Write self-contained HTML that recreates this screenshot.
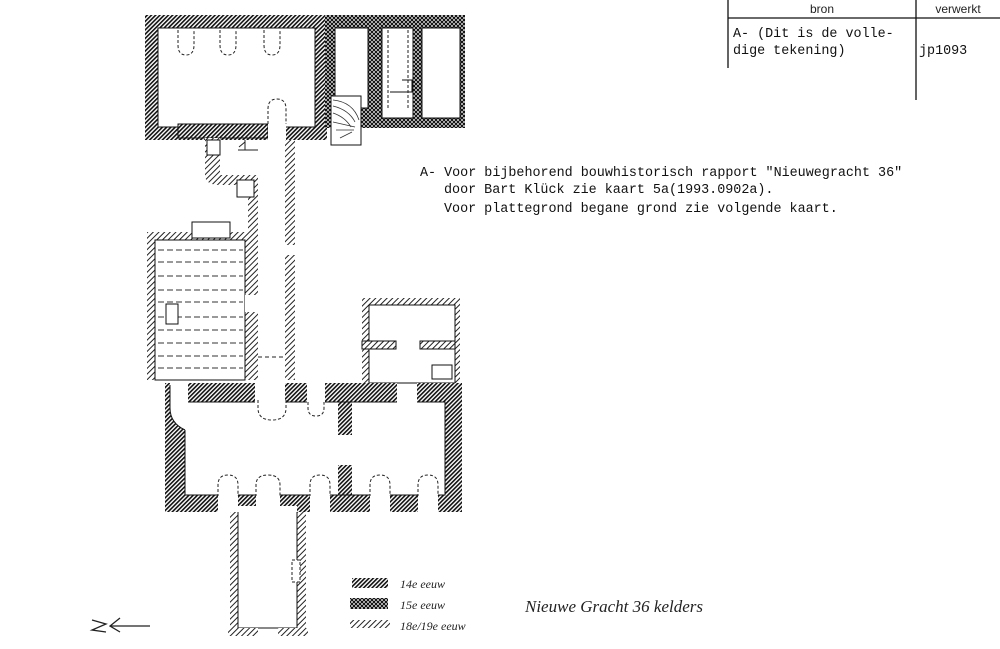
<!DOCTYPE html>
<html><head><meta charset="utf-8"><style>
html,body{margin:0;padding:0;background:#fff;}
svg{display:block}
.m{font-family:"Liberation Mono",monospace;font-size:13.4px;fill:#111}
</style></head><body>
<svg width="1000" height="649" viewBox="0 0 1000 649" xmlns="http://www.w3.org/2000/svg">
<defs>
<pattern id="h14" width="3" height="3" patternUnits="userSpaceOnUse" patternTransform="rotate(45)"><rect width="3" height="3" fill="#fff"/><rect width="1.6" height="3" fill="#111"/></pattern>
<pattern id="h15" width="4" height="4" patternUnits="userSpaceOnUse"><rect width="4" height="4" fill="#fff"/><path d="M0 0L4 4M4 0L0 4" stroke="#111" stroke-width="1.2"/></pattern>
<pattern id="h18" width="4" height="4" patternUnits="userSpaceOnUse" patternTransform="rotate(45)"><rect width="4" height="4" fill="#fff"/><rect width="1" height="4" fill="#222"/></pattern>
</defs>
<!-- table -->
<g stroke="#111" stroke-width="1.3" fill="none">
<line x1="728" y1="0" x2="728" y2="68"/>
<line x1="916" y1="0" x2="916" y2="100"/>
<line x1="728" y1="18" x2="1000" y2="18"/>
</g>
<text x="822" y="13" font-family="Liberation Sans,sans-serif" font-size="12" text-anchor="middle" fill="#222">bron</text>
<text x="958" y="13" font-family="Liberation Sans,sans-serif" font-size="12" text-anchor="middle" fill="#222">verwerkt</text>
<text class="m" x="733" y="37">A- (Dit is de volle-</text>
<text class="m" x="733" y="54">dige tekening)</text>
<text class="m" x="919" y="54">jp1093</text>
<!-- note -->
<text class="m" x="420" y="176">A- Voor bijbehorend bouwhistorisch rapport "Nieuwegracht 36"</text>
<text class="m" x="444" y="193">door Bart Klück zie kaart 5a(1993.0902a).</text>
<text class="m" x="444" y="212">Voor plattegrond begane grond zie volgende kaart.</text>

<!-- top block -->
<rect x="145" y="15" width="182" height="125" fill="url(#h14)"/>
<rect x="158" y="28" width="157" height="99" fill="#fff" stroke="#111"/>
<rect x="178" y="124" width="90" height="14" fill="url(#h14)" stroke="#111"/>
<rect x="268" y="124" width="18" height="20" fill="#fff"/>
<rect x="325" y="15" width="140" height="113" fill="url(#h15)"/>
<rect x="335" y="28" width="33" height="80" fill="#fff" stroke="#111"/>
<rect x="382" y="28" width="31" height="90" fill="#fff" stroke="#111"/>
<rect x="422" y="28" width="38" height="90" fill="#fff" stroke="#111"/>
<rect x="331" y="96" width="30" height="49" fill="#fff" stroke="#111"/>
<g fill="none" stroke="#333" stroke-width="0.8">
<path d="M333 100q20 2 26 20M333 106q16 4 22 16M333 113q12 4 18 14M333 122l22 5M336 130l18 0M340 138l12-6"/>
</g>
<path d="M390 92h22v-12h-10" fill="none" stroke="#111"/>
<g fill="none" stroke="#222" stroke-dasharray="3,2">
<path d="M178 30v15q0 10 8 10t8-10v-15"/><path d="M220 30v15q0 10 8 10t8-10v-15"/><path d="M264 30v15q0 10 8 10t8-10v-15"/>
<path d="M388 30v80M408 30v80"/>
<path d="M268 124v-15q0-10 9-10t9 10v15"/>
</g>
<!-- stair area / corridor walls -->
<path d="M205 138h15v37h38v205h-10v-195h-28q-15 0-15-10z" fill="url(#h18)"/>
<rect x="207" y="140" width="13" height="15" fill="#fff" stroke="#111"/>
<rect x="237" y="180" width="17" height="17" fill="#fff" stroke="#111"/>
<path d="M238 150h20M245 150v-10M245 142l-6 5" stroke="#222" fill="none"/>
<rect x="285" y="140" width="10" height="105" fill="url(#h18)"/>
<rect x="285" y="255" width="10" height="125" fill="url(#h18)"/>
<path d="M258 357h27" stroke="#222" stroke-dasharray="4,3"/>
<!-- dashed room -->
<rect x="147" y="232" width="110" height="148" fill="url(#h18)"/>
<rect x="155" y="240" width="90" height="140" fill="#fff" stroke="#111"/>
<rect x="245" y="295" width="13" height="17" fill="#fff"/>
<rect x="192" y="222" width="38" height="16" fill="#fff" stroke="#111"/>
<g stroke="#333" stroke-dasharray="6,3">
<line x1="158" y1="250" x2="243" y2="250"/><line x1="158" y1="262" x2="243" y2="262"/><line x1="158" y1="276" x2="243" y2="276"/><line x1="158" y1="290" x2="243" y2="290"/><line x1="158" y1="302" x2="243" y2="302"/><line x1="158" y1="317" x2="243" y2="317"/><line x1="158" y1="330" x2="243" y2="330"/><line x1="158" y1="343" x2="243" y2="343"/><line x1="158" y1="356" x2="243" y2="356"/><line x1="158" y1="368" x2="243" y2="368"/>
</g>
<rect x="166" y="304" width="12" height="20" fill="#fff" stroke="#111"/>
<!-- right small block -->
<rect x="362" y="298" width="98" height="85" fill="url(#h18)"/>
<rect x="369" y="305" width="86" height="78" fill="#fff" stroke="#111"/>
<rect x="362" y="341" width="34" height="8" fill="url(#h18)" stroke="#111"/>
<rect x="420" y="341" width="35" height="8" fill="url(#h18)" stroke="#111"/>
<rect x="432" y="365" width="20" height="14" fill="#fff" stroke="#111"/>
<!-- lower main room -->
<path d="M165 383h5v25q0 15 15 22v82h-20z" fill="url(#h14)"/>
<rect x="165" y="495" width="297" height="17" fill="url(#h14)"/>
<rect x="445" y="383" width="17" height="129" fill="url(#h14)"/>
<rect x="188" y="383" width="67" height="19" fill="url(#h14)"/>
<rect x="285" y="383" width="22" height="19" fill="url(#h14)"/>
<rect x="325" y="383" width="72" height="19" fill="url(#h14)"/>
<rect x="417" y="383" width="45" height="19" fill="url(#h14)"/>
<rect x="338" y="400" width="14" height="35" fill="url(#h14)"/>
<rect x="338" y="465" width="14" height="32" fill="url(#h14)"/>
<path d="M170 385v23q0 15 15 22" fill="none" stroke="#111"/>
<path d="M185 430v65h260v-93h-28M397 402h-72M307 402h-22M255 402h-67" fill="none" stroke="#111"/>
<g fill="#fff" stroke="#222" stroke-dasharray="3,2">
<path d="M218 497v-12q0-10 10-10t10 10v12z"/><path d="M256 497v-12q0-10 12-10t12 10v12z"/><path d="M310 497v-12q0-10 10-10t10 10v12z"/><path d="M370 497v-12q0-10 10-10t10 10v12z"/><path d="M418 497v-12q0-10 10-10t10 10v12z"/>
<path d="M258 400v8q0 12 14 12t14-12v-8"/><path d="M308 402v6q0 8 8 8t8-8v-6"/>
</g>
<g fill="#fff"><rect x="218" y="496" width="20" height="16"/><rect x="310" y="496" width="20" height="16"/><rect x="370" y="496" width="20" height="16"/><rect x="418" y="496" width="20" height="16"/><rect x="256" y="496" width="24" height="10"/></g>
<!-- bottom corridor -->
<rect x="230" y="512" width="8" height="118" fill="url(#h18)"/>
<rect x="297" y="512" width="9" height="118" fill="url(#h18)"/>
<rect x="238" y="506" width="59" height="122" fill="#fff"/>
<path d="M238 512v116h59v-116" fill="none" stroke="#111"/>
<rect x="292" y="560" width="8" height="22" fill="#fff" stroke="#222" stroke-dasharray="3,2"/>
<rect x="228" y="628" width="30" height="8" fill="url(#h18)"/>
<rect x="278" y="628" width="30" height="8" fill="url(#h18)"/>
<!-- legend -->
<rect x="352" y="578" width="36" height="10" fill="url(#h14)"/>
<rect x="350" y="598" width="38" height="11" fill="url(#h15)"/>
<rect x="350" y="620" width="40" height="8" fill="url(#h18)"/>
<g font-family="Liberation Serif,serif" font-style="italic" font-size="12" fill="#222">
<text x="400" y="588">14e eeuw</text><text x="400" y="609">15e eeuw</text><text x="400" y="630">18e/19e eeuw</text>
<text x="525" y="612" font-size="17">Nieuwe Gracht 36  kelders</text>
</g>
<!-- north arrow -->
<path d="M92 620l14 4-14 6 14 2M150 626h-40M120 618l-10 8 10 6" stroke="#222" stroke-width="1.3" fill="none"/>
</svg>
</body></html>
